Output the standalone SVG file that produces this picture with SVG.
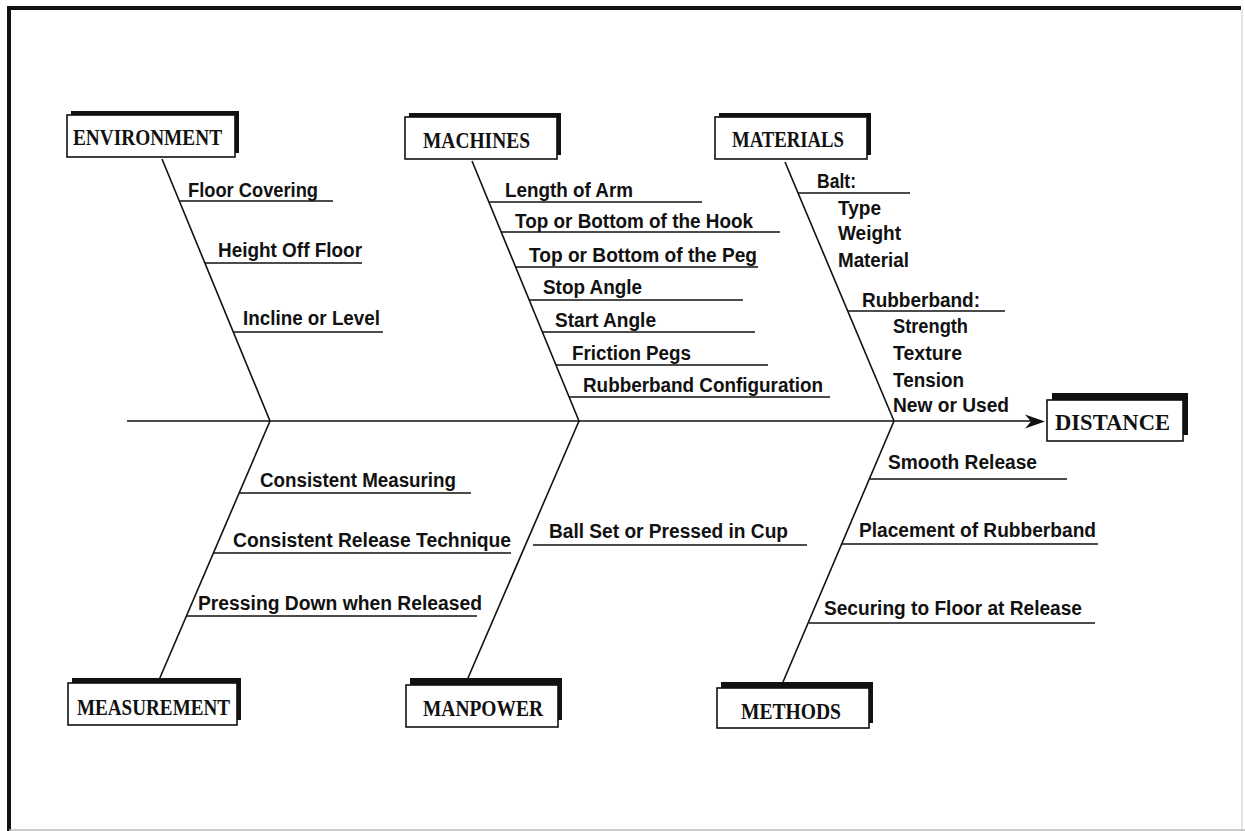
<svg xmlns="http://www.w3.org/2000/svg" width="1245" height="831" viewBox="0 0 1245 831">
<defs>
<style>
.cat{font-family:"Liberation Serif","Times New Roman",serif;font-size:24px;font-weight:bold;fill:#111;}
.lbl{font-family:"Liberation Sans",Arial,sans-serif;font-size:20px;font-weight:bold;fill:#111;}
.box{fill:#fff;stroke:#111;stroke-width:1.6;}
.sh{fill:#111;}
.ln{stroke:#111;stroke-width:1.6;fill:none;}
</style>
</defs>
<rect x="0" y="0" width="1245" height="831" fill="#fff"/>
<g id="frame">
<line x1="7" y1="8" x2="1241" y2="8" stroke="#111" stroke-width="4"/>
<line x1="9" y1="6" x2="9" y2="831" stroke="#111" stroke-width="4"/>
<line x1="1242" y1="10" x2="1242" y2="831" stroke="#ddd" stroke-width="1.5"/>
<line x1="9" y1="830" x2="1245" y2="830" stroke="#bbb" stroke-width="1.5"/>
</g>
<g id="connectors">
<line class="ln" x1="127" y1="421" x2="1032" y2="421"/>
<path d="M1045,421.5 L1025,414.5 L1031,421.5 L1025,428.5 Z" fill="#111"/>
<line class="ln" x1="162" y1="159" x2="270" y2="421"/>
<line class="ln" x1="270" y1="421" x2="159" y2="680"/>
<line class="ln" x1="472" y1="161" x2="579" y2="421"/>
<line class="ln" x1="579" y1="421" x2="468" y2="678"/>
<line class="ln" x1="785" y1="162" x2="894" y2="421"/>
<line class="ln" x1="894" y1="421" x2="783" y2="682"/>
<line class="ln" x1="180" y1="201" x2="333" y2="201"/>
<line class="ln" x1="205" y1="263" x2="362" y2="263"/>
<line class="ln" x1="233" y1="332" x2="383" y2="332"/>
<line class="ln" x1="489" y1="202" x2="702" y2="202"/>
<line class="ln" x1="501" y1="232" x2="780" y2="232"/>
<line class="ln" x1="516" y1="267" x2="758" y2="267"/>
<line class="ln" x1="529" y1="300" x2="743" y2="300"/>
<line class="ln" x1="542" y1="332" x2="755" y2="332"/>
<line class="ln" x1="556" y1="365" x2="768" y2="365"/>
<line class="ln" x1="569" y1="397" x2="830" y2="397"/>
<line class="ln" x1="798" y1="193" x2="910" y2="193"/>
<line class="ln" x1="848" y1="311" x2="1005" y2="311"/>
<line class="ln" x1="239" y1="493" x2="471" y2="493"/>
<line class="ln" x1="214" y1="553" x2="511" y2="553"/>
<line class="ln" x1="187" y1="616" x2="477" y2="616"/>
<line class="ln" x1="533" y1="545" x2="807" y2="545"/>
<line class="ln" x1="870" y1="479" x2="1067" y2="479"/>
<line class="ln" x1="842" y1="544" x2="1098" y2="544"/>
<line class="ln" x1="809" y1="623" x2="1095" y2="623"/>
</g>
<g id="environment">
<rect class="sh" x="71" y="111" width="168" height="42"/>
<rect class="box" x="67" y="115" width="168" height="42"/>
<text class="cat" x="73" y="145" textLength="149" lengthAdjust="spacingAndGlyphs">ENVIRONMENT</text>
<text class="lbl" x="188" y="197" textLength="130" lengthAdjust="spacingAndGlyphs">Floor Covering</text>
<text class="lbl" x="218" y="257" textLength="144" lengthAdjust="spacingAndGlyphs">Height Off Floor</text>
<text class="lbl" x="243" y="325" textLength="137" lengthAdjust="spacingAndGlyphs">Incline or Level</text>
</g>
<g id="machines">
<rect class="sh" x="409" y="113" width="152" height="42"/>
<rect class="box" x="405" y="117" width="152" height="42"/>
<text class="cat" x="423" y="148" textLength="107" lengthAdjust="spacingAndGlyphs">MACHINES</text>
<text class="lbl" x="505" y="197" textLength="128" lengthAdjust="spacingAndGlyphs">Length of Arm</text>
<text class="lbl" x="515" y="228" textLength="238" lengthAdjust="spacingAndGlyphs">Top or Bottom of the Hook</text>
<text class="lbl" x="529" y="262" textLength="228" lengthAdjust="spacingAndGlyphs">Top or Bottom of the Peg</text>
<text class="lbl" x="543" y="294" textLength="99" lengthAdjust="spacingAndGlyphs">Stop Angle</text>
<text class="lbl" x="555" y="327" textLength="101" lengthAdjust="spacingAndGlyphs">Start Angle</text>
<text class="lbl" x="572" y="360" textLength="119" lengthAdjust="spacingAndGlyphs">Friction Pegs</text>
<text class="lbl" x="583" y="392" textLength="240" lengthAdjust="spacingAndGlyphs">Rubberband Configuration</text>
</g>
<g id="materials">
<rect class="sh" x="719" y="113" width="152" height="42"/>
<rect class="box" x="715" y="117" width="152" height="42"/>
<text class="cat" x="732" y="147" textLength="112" lengthAdjust="spacingAndGlyphs">MATERIALS</text>
<text class="lbl" x="817" y="188" textLength="39" lengthAdjust="spacingAndGlyphs">Balt:</text>
<text class="lbl" x="838" y="215" textLength="43" lengthAdjust="spacingAndGlyphs">Type</text>
<text class="lbl" x="838" y="240" textLength="63" lengthAdjust="spacingAndGlyphs">Weight</text>
<text class="lbl" x="838" y="267" textLength="71" lengthAdjust="spacingAndGlyphs">Material</text>
<text class="lbl" x="862" y="307" textLength="118" lengthAdjust="spacingAndGlyphs">Rubberband:</text>
<text class="lbl" x="893" y="333" textLength="75" lengthAdjust="spacingAndGlyphs">Strength</text>
<text class="lbl" x="893" y="360" textLength="69" lengthAdjust="spacingAndGlyphs">Texture</text>
<text class="lbl" x="893" y="387" textLength="71" lengthAdjust="spacingAndGlyphs">Tension</text>
<text class="lbl" x="893" y="412" textLength="116" lengthAdjust="spacingAndGlyphs">New or Used</text>
</g>
<g id="measurement">
<rect class="sh" x="72" y="678" width="169" height="42"/>
<rect class="box" x="68" y="683" width="169" height="42"/>
<text class="cat" x="77" y="715" textLength="153" lengthAdjust="spacingAndGlyphs">MEASUREMENT</text>
<text class="lbl" x="260" y="487" textLength="196" lengthAdjust="spacingAndGlyphs">Consistent Measuring</text>
<text class="lbl" x="233" y="547" textLength="278" lengthAdjust="spacingAndGlyphs">Consistent Release Technique</text>
<text class="lbl" x="198" y="610" textLength="284" lengthAdjust="spacingAndGlyphs">Pressing Down when Released</text>
</g>
<g id="manpower">
<rect class="sh" x="410" y="678" width="152" height="42"/>
<rect class="box" x="406" y="685" width="152" height="42"/>
<text class="cat" x="423" y="716" textLength="120" lengthAdjust="spacingAndGlyphs">MANPOWER</text>
<text class="lbl" x="549" y="538" textLength="239" lengthAdjust="spacingAndGlyphs">Ball Set or Pressed in Cup</text>
</g>
<g id="methods">
<rect class="sh" x="721" y="682" width="152" height="41"/>
<rect class="box" x="717" y="688" width="152" height="40"/>
<text class="cat" x="741" y="719" textLength="100" lengthAdjust="spacingAndGlyphs">METHODS</text>
<text class="lbl" x="888" y="469" textLength="149" lengthAdjust="spacingAndGlyphs">Smooth Release</text>
<text class="lbl" x="859" y="537" textLength="237" lengthAdjust="spacingAndGlyphs">Placement of Rubberband</text>
<text class="lbl" x="824" y="615" textLength="258" lengthAdjust="spacingAndGlyphs">Securing to Floor at Release</text>
</g>
<g id="distance">
<rect class="sh" x="1052" y="393" width="136" height="42"/>
<rect class="box" x="1047" y="400" width="136" height="41"/>
<text class="cat" x="1055" y="430" font-size="25" textLength="115" lengthAdjust="spacingAndGlyphs">DISTANCE</text>
</g>
</svg>
